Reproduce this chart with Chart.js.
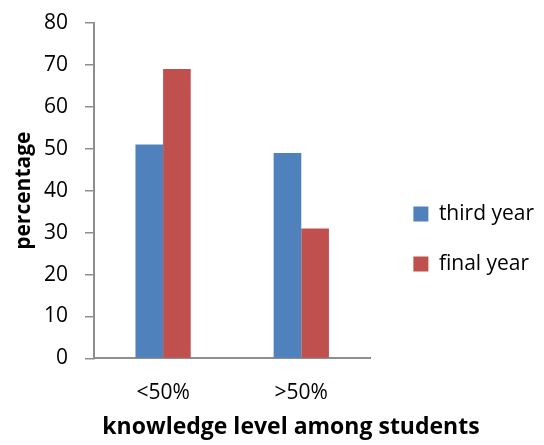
<!DOCTYPE html>
<html>
<head>
<meta charset="utf-8">
<script src="https://cdn.jsdelivr.net/npm/chart.js@4/dist/chart.umd.min.js"></script>
<style>
  html, body { margin: 0; padding: 0; background: #ffffff; }
  #wrap { width: 544px; height: 445px; }
</style>
</head>
<body>
<div id="wrap"><canvas id="chart"></canvas></div>
<script>
// Knowledge level of students, by year of study (percent)
const categories = ['<50%', '>50%'];
const seriesNames = ['third year', 'final year'];
const thirdYear = [51, 49];
const finalYear = [69, 31];
const yMin = 0;
const yMax = 80;
const yStep = 10;

const AXIS_GREY = '#8e8e8e';
const FONT = "'Open Sans', 'Liberation Sans', sans-serif";

// Nudges the bottom caption so it sits under the plot and legend together
const captionShift = {
  id: 'captionShift',
  afterLayout(chart) {
    if (chart.titleBlock) {
      chart.titleBlock.left += 38;
    }
  }
};

new Chart(document.getElementById('chart'), {
  type: 'bar',
  data: {
    labels: categories,
    datasets: [
      { label: seriesNames[0], data: thirdYear, backgroundColor: '#4F81BD', borderWidth: 0 },
      { label: seriesNames[1], data: finalYear, backgroundColor: '#C0504D', borderWidth: 0 }
    ]
  },
  options: {
    responsive: true,
    maintainAspectRatio: false,
    animation: false,
    events: [],
    layout: { padding: { top: 23, left: 0, right: 0, bottom: 0 } },
    datasets: {
      bar: { categoryPercentage: 0.4, barPercentage: 1.0 }
    },
    scales: {
      x: {
        grid: { display: false, drawTicks: false },
        border: { display: true, color: AXIS_GREY, width: 2 },
        ticks: { color: '#000', font: { family: FONT, size: 21 }, padding: 22 },
        afterFit(scale) { scale.height = 55; }
      },
      y: {
        min: yMin,
        max: yMax,
        ticks: { stepSize: yStep, color: '#000', font: { family: FONT, size: 21 }, padding: 17 },
        grid: { display: true, drawOnChartArea: false, drawTicks: true, tickLength: 9, color: AXIS_GREY, lineWidth: 1.5 },
        border: { display: true, color: AXIS_GREY, width: 2 },
        title: {
          display: true,
          text: 'percentage',
          color: '#000',
          font: { family: FONT, size: 21, weight: 'bold' },
          padding: { top: 11, bottom: 0 }
        },
        afterFit(scale) {
          scale.width = 94;
          scale.paddingTop = 0;
          scale.paddingBottom = 0;
        }
      },
      // spacer between the plot and the legend
      gap: {
        type: 'linear',
        position: 'right',
        display: true,
        grid: { display: false, drawTicks: false },
        border: { display: false },
        ticks: { display: false },
        afterFit(scale) { scale.width = 14; }
      }
    },
    plugins: {
      legend: {
        position: 'right',
        align: 'center',
        maxWidth: 220,
        title: { display: true, text: '', font: { size: 1 }, padding: { top: 5, bottom: 4 } },
        labels: {
          boxWidth: 15,
          boxHeight: 15,
          padding: 29,
          color: '#000',
          font: { family: FONT, size: 21 }
        }
      },
      title: {
        display: true,
        position: 'bottom',
        text: 'knowledge level among students',
        color: '#000',
        font: { family: FONT, size: 23, weight: 'bold' },
        padding: { top: 0, bottom: 4 }
      },
      tooltip: { enabled: false }
    }
  },
  plugins: [captionShift]
});
</script>
</body>
</html>
